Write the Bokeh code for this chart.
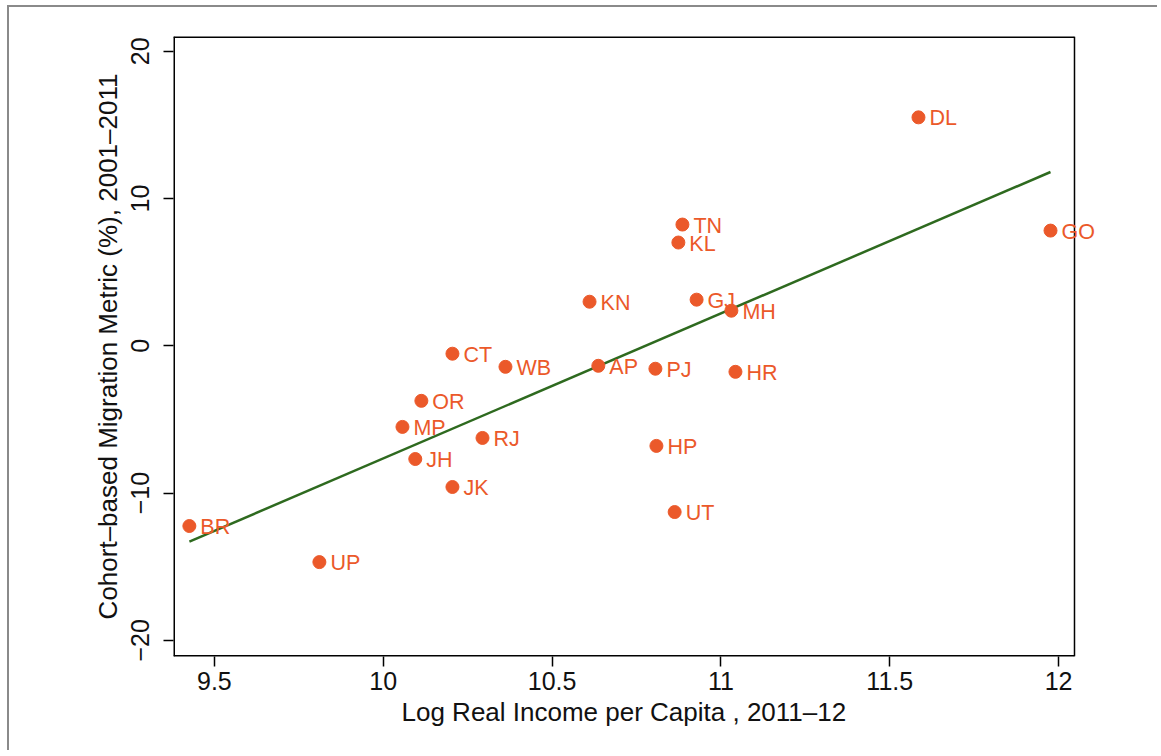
from bokeh.plotting import figure
from bokeh.models import ColumnDataSource, Range1d, FixedTicker, Label, Title
from bokeh.embed import file_html
from bokeh.resources import INLINE

states = ["BR", "UP", "MP", "OR", "JH", "CT", "JK", "RJ", "WB", "KN", "AP",
          "PJ", "HP", "UT", "KL", "TN", "GJ", "MH", "HR", "DL", "GO"]
log_income = [9.426, 9.811, 10.057, 10.113, 10.095, 10.205, 10.205, 10.294,
              10.362, 10.611, 10.637, 10.806, 10.809, 10.863, 10.874, 10.886,
              10.928, 11.031, 11.043, 11.585, 11.976]
migration = [-12.24, -14.69, -5.51, -3.74, -7.69, -0.54, -9.59, -6.26,
             -1.43, 2.99, -1.36, -1.56, -6.80, -11.29, 7.01, 8.23,
             3.13, 2.38, -1.77, 15.51, 7.82]
fit_x = [9.426, 11.976]
fit_y = [-13.3, 11.8]
x_ticks = [9.5, 10, 10.5, 11, 11.5, 12]
y_ticks = [-20, -10, 0, 10, 20]
x_title = "Log Real Income per Capita , 2011\u201312"
y_title = "Cohort\u2013based Migration Metric (%), 2001\u20132011"

# plot-region limits (axis box)
X_LO, X_HI = 9.379, 12.047
Y_LO, Y_HI = -21.1, 21.0
X_EXTRA = 0.1925  # room right of the box so that labels (GO) are not clipped

FONT = "Liberation Sans"
ORANGE = "#EB592A"
GREEN = "#2E6A1F"

p = figure(width=1150, height=745, output_backend="svg", toolbar_location=None,
           x_range=Range1d(X_LO, X_HI + X_EXTRA), y_range=Range1d(Y_LO, Y_HI),
           min_border_left=164, min_border_right=20, min_border_top=29,
           min_border_bottom=96)
p.styles = {"border-left": "2px solid #8a8a8a", "border-top": "2px solid #8a8a8a",
            "margin-left": "7px", "margin-top": "5px"}
p.outline_line_color = None

# axis box
p.multi_line(xs=[[X_LO, X_HI], [X_LO, X_HI], [X_LO, X_LO]],
             ys=[[Y_HI, Y_HI], [Y_LO, Y_LO], [Y_LO, Y_HI]],
             line_color="black", line_width=3)
p.line([X_HI, X_HI], [Y_LO, Y_HI], line_color="black", line_width=1.5)

src = ColumnDataSource(dict(x=log_income, y=migration, label=states))
p.line(fit_x, fit_y, line_color=GREEN, line_width=2.5)
p.scatter("x", "y", source=src, size=13, fill_color=ORANGE, line_color=ORANGE)
for sx, sy, name in zip(log_income, migration, states):
    p.add_layout(Label(x=sx, y=sy, text=name, x_offset=11, y_offset=-1,
                       text_font=FONT, text_font_size="21.5px", text_color=ORANGE,
                       text_baseline="middle", text_align="left"))

p.xgrid.visible = False
p.ygrid.visible = False

for ax in (p.xaxis[0], p.yaxis[0]):
    ax.axis_line_color = None
    ax.major_tick_line_color = "black"
    ax.major_tick_line_width = 1.5
    ax.major_tick_out = 10
    ax.major_tick_in = 0
    ax.minor_tick_line_color = None
    ax.major_label_text_font = FONT
    ax.major_label_text_font_size = "25px"
    ax.major_label_text_color = "#111111"
    ax.axis_label_text_font = FONT
    ax.axis_label_text_font_size = "26px"
    ax.axis_label_text_font_style = "normal"
    ax.axis_label_text_color = "#111111"

p.xaxis[0].major_label_standoff = 5
p.yaxis[0].major_label_standoff = 14
p.yaxis[0].axis_label_standoff = 6

p.xaxis[0].ticker = FixedTicker(ticks=x_ticks)
p.yaxis[0].ticker = FixedTicker(ticks=y_ticks)
p.xaxis[0].major_label_overrides = {9.5: "9.5", 10: "10", 10.5: "10.5", 11: "11", 11.5: "11.5", 12: "12"}
p.yaxis[0].major_label_overrides = {-20: "\u221220", -10: "\u221210", 0: "0", 10: "10", 20: "20"}
p.yaxis[0].major_label_orientation = "vertical"
p.yaxis[0].axis_label = y_title

# x title centred under the axis box (not under the wider frame)
xt = Title(text=x_title, align="left", offset=228, standoff=4,
           text_font=FONT, text_font_size="26px", text_font_style="normal",
           text_color="#111111")
p.add_layout(xt, "below")

open("out.html", "w").write(file_html(p, INLINE))
